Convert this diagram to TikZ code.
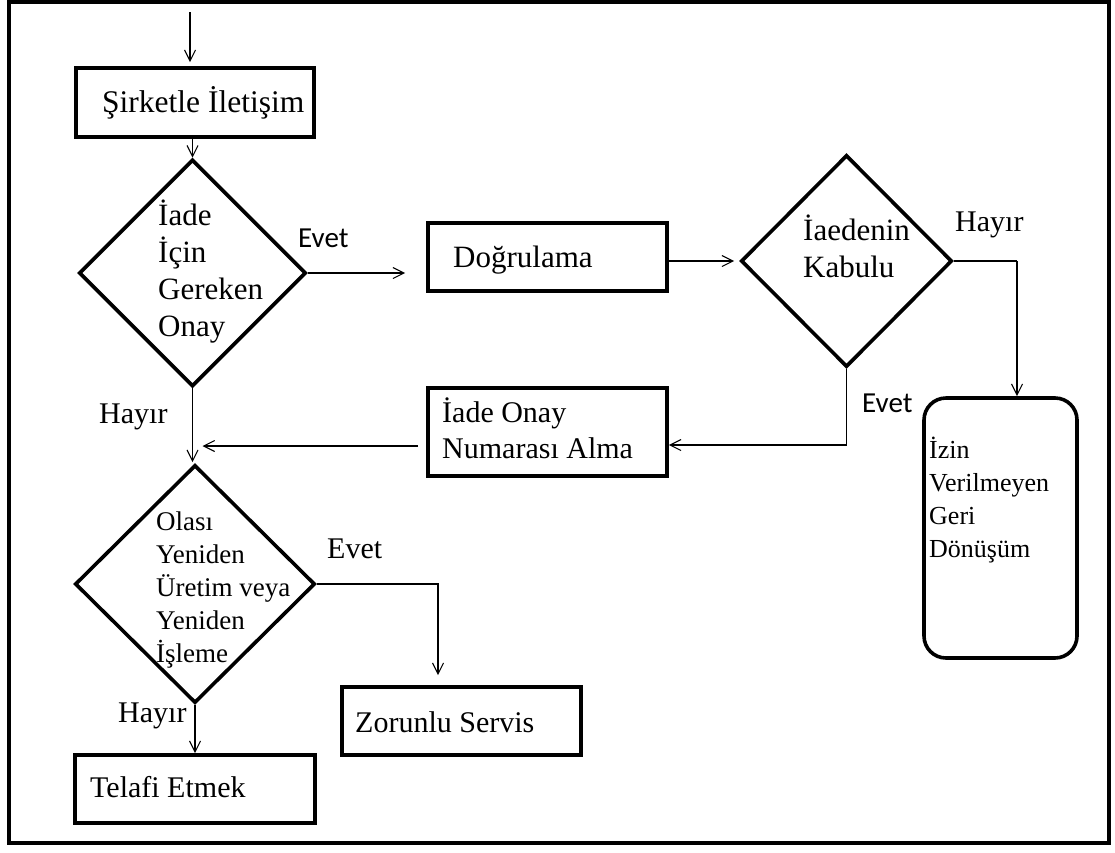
\documentclass[tikz,border=0pt]{standalone}
\usepackage{fontspec}
\setmainfont{Liberation Serif}
\newfontfamily\evetfont{Carlito}
\usetikzlibrary{shapes.geometric,arrows.meta}
% several lines, left aligned, baseline on the first line
\newcommand\linesof[1]{\parbox[t]{300pt}{\raggedright #1}}
\begin{document}
\begin{tikzpicture}[x=1pt,y=-1pt,
  box/.style={draw, rectangle, line width=3.6pt, inner sep=0pt},
  rbox/.style={draw, rectangle, rounded corners=22pt, line width=3.6pt, inner sep=0pt},
  dia/.style={draw, diamond, line width=3.6pt, inner sep=0pt},
  conn/.style={line width=1.1pt},
  arr/.style={conn, -{Straight Barb[length=11pt,width=11pt]}},
  txt/.style={anchor=base west, inner sep=0pt},
  t32/.style={txt, font=\fontsize{31.5}{38}\selectfont},
  t31/.style={txt, font=\fontsize{31}{37}\selectfont},
  t30/.style={txt, font=\fontsize{30}{36}\selectfont},
  t27/.style={txt, font=\fontsize{27}{33.2}\selectfont},
  t26/.style={txt, font=\fontsize{26}{33}\selectfont},
  sans/.style={txt, font=\evetfont\fontsize{29}{35}\selectfont}]
\useasboundingbox (0,0) rectangle (1115,852);
\draw[line width=4pt] (9,2) rectangle (1109,843);

% shapes
\node[box, minimum width=238pt, minimum height=69pt] (b1) at (195,102.5) {};
\node[dia, minimum width=227pt, minimum height=227pt] (d1) at (192.5,273) {};
\node[box, minimum width=239pt, minimum height=68pt] (b2) at (547.5,257) {};
\node[dia, minimum width=211pt, minimum height=212pt] (d2) at (846.5,261) {};
\node[box, minimum width=239pt, minimum height=88pt] (b3) at (547.5,432) {};
\node[rbox, minimum width=153pt, minimum height=260pt] (b4) at (1000.5,528) {};
\node[dia, minimum width=240pt, minimum height=238pt] (d3) at (195,584) {};
\node[box, minimum width=239pt, minimum height=68pt] (b5) at (461.5,721) {};
\node[box, minimum width=240pt, minimum height=68pt] (b6) at (195,789) {};

% texts
\node[t32] (tb1) at (102,112) {Şirketle İletişim};
\node[t31] (td1) at (158,225) {\linesof{İade\\İçin\\Gereken\\Onay}};
\node[sans] (e1) at (298,247) {Evet};
\node[t31] (tb2) at (453,267) {Doğrulama};
\node[t31] (td2) at (803,240) {\linesof{İaedenin\\Kabulu}};
\node[t30] (h2) at (955,231) {Hayır};
\node[sans] (e2) at (862,412) {Evet};
\node[t30] (tb3) at (442,422) {\linesof{İade Onay\\Numarası Alma}};
\node[t30] (h1) at (99,423) {Hayır};
\node[t27] (td3) at (156,530) {\linesof{Olası\\Yeniden\\Üretim veya\\Yeniden\\İşleme}};
\node[t30] (e3) at (327,558) {Evet};
\node[t30] (tb5) at (355,732) {Zorunlu Servis};
\node[t30] (h3) at (118,722) {Hayır};
\node[t30] (tb6) at (90,797) {Telafi Etmek};
\node[t26] (tb4) at (929,458) {\linesof{İzin\\Verilmeyen\\Geri\\Dönüşüm}};

% connectors
\coordinate (in) at (190,12);
\draw[arr, shorten >=4pt] (in) -- (in |- b1.north);
\draw[arr] (d1.north |- b1.south) -- (d1.north);
\draw[arr, shorten >=21pt] (d1.east) -- (d1.east -| b2.west);
\draw[arr, shorten >=5pt] (b2.east |- d2.west) -- (d2.west);

\path (b4.north) ++(16.5pt,0pt) coordinate (kt);
\coordinate (k) at (kt |- d2.east);
\draw[line width=2pt] (d2.east) -- (k);
\draw[arr] (k) -- (kt);

\path (b3.east) ++(0pt,-13pt) coordinate (m);
\draw[arr] (d2.south) |- (m);

\path (b3.west) ++(0pt,-14pt) coordinate (w3);
\coordinate (j) at (d1.south |- w3);
\draw[arr, shorten <=8pt, shorten >=10pt] (w3) -- (j);

\draw[arr, shorten >=1pt] (d1.south) -- (d1.south |- d3.north);

\path (b5.north) ++(-23.5pt,0pt) coordinate (zt);
\draw[arr, shorten >=10pt] (d3.east) -| (zt);

\draw[arr] (d3.south) -- (b6.north);
\end{tikzpicture}
\end{document}
